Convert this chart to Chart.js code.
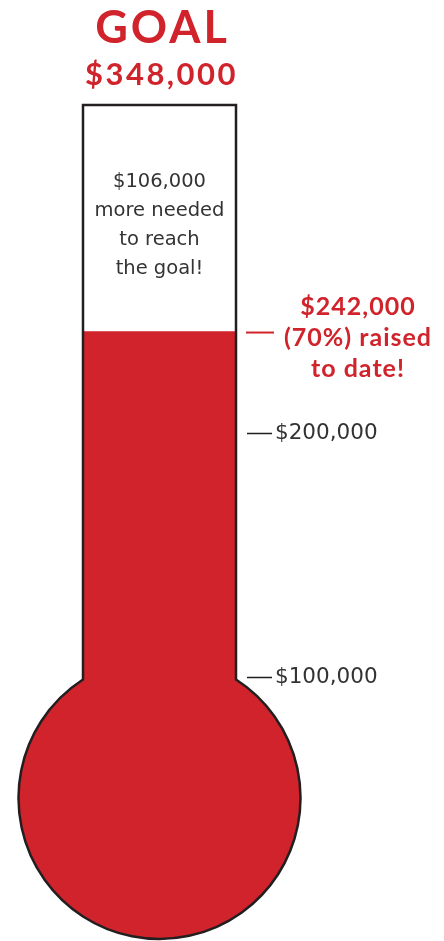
<!DOCTYPE html>
<html>
<head>
<meta charset="utf-8">
<script src="https://cdn.jsdelivr.net/npm/chart.js@4.4.1/dist/chart.umd.min.js"></script>
<style>
  html, body { margin: 0; padding: 0; background: #fff; }
  #wrap { width: 444px; height: 941px; position: relative; }
</style>
</head>
<body>
<div id="wrap"><canvas id="thermo"></canvas></div>
<script>
// data
const CATEGORIES = ['Raised'];
const GOAL = 348000;
const RAISED = [242000];
const TICK_VALUES = [100000, 200000];

const RED = '#d0232b';
const INK = '#231f20';
const TEXT = '#333333';
const BOLD_FONT = 'Lato, "Open Sans", sans-serif';
const BOOK_FONT = '"DejaVu Sans", sans-serif';

function money(v) {
  return '$' + v.toLocaleString('en-US');
}

function bulb(chart) {
  const a = chart.chartArea;
  const cx = (a.left + a.right) / 2;
  const r = 141;
  const cy = a.bottom - 123;
  const half = (a.right - a.left) / 2;
  const h = Math.sqrt(r * r - half * half);
  return { a, cx, cy, r, half, joinY: cy - h, t0: Math.atan2(h, half) };
}

// thermometer tube, bulb and labels
const thermoPlugin = {
  id: 'thermo',
  beforeDatasetsDraw(chart) {
    const b = bulb(chart);
    const ctx = chart.ctx;
    ctx.save();
    ctx.beginPath();
    ctx.rect(b.a.left, b.a.top, b.a.right - b.a.left, b.joinY - b.a.top + 4);
    ctx.arc(b.cx, b.cy, b.r, 0, Math.PI * 2);
    ctx.clip();
  },
  afterDatasetsDraw(chart) {
    const ctx = chart.ctx;
    ctx.restore();
    const b = bulb(chart);
    const a = b.a;
    const cx = b.cx;
    const y = chart.scales.y;

    ctx.save();
    // bulb
    ctx.fillStyle = RED;
    ctx.beginPath();
    ctx.arc(cx, b.cy, b.r, 0, Math.PI * 2);
    ctx.fill();

    // outline
    ctx.strokeStyle = INK;
    ctx.lineWidth = 2.5;
    ctx.beginPath();
    ctx.moveTo(a.left, b.joinY);
    ctx.lineTo(a.left, a.top);
    ctx.lineTo(a.right, a.top);
    ctx.lineTo(a.right, b.joinY);
    ctx.arc(cx, b.cy, b.r, -b.t0, Math.PI + b.t0, false);
    ctx.closePath();
    ctx.stroke();

    // header
    ctx.textAlign = 'center';
    ctx.textBaseline = 'alphabetic';
    ctx.fillStyle = RED;
    ctx.font = 'bold 45px ' + BOLD_FONT;
    ctx.letterSpacing = '3px';
    ctx.fillText('GOAL', cx + 3, a.top - 62);
    ctx.font = 'bold 31px ' + BOLD_FONT;
    ctx.letterSpacing = '2.5px';
    ctx.fillText(money(GOAL), cx + 2, a.top - 20);

    // still needed
    const raised = RAISED[0];
    ctx.fillStyle = TEXT;
    ctx.letterSpacing = '0px';
    ctx.font = '19.5px ' + BOOK_FONT;
    ctx.textBaseline = 'middle';
    const need = [money(GOAL - raised), 'more needed', 'to reach', 'the goal!'];
    need.forEach((s, i) => ctx.fillText(s, cx, a.top + 77 + i * 29));

    // raised marker
    const py = y.getPixelForValue(raised);
    ctx.strokeStyle = RED;
    ctx.lineWidth = 2;
    ctx.beginPath();
    ctx.moveTo(a.right + 10, py + 1);
    ctx.lineTo(a.right + 38, py + 1);
    ctx.stroke();

    ctx.fillStyle = RED;
    ctx.font = 'bold 25px ' + BOLD_FONT;
    ctx.letterSpacing = '1px';
    const pct = Math.round(raised / GOAL * 100);
    const lines = [money(raised), '(' + pct + '%) raised', 'to date!'];
    lines.forEach((s, i) => ctx.fillText(s, a.right + 122, py - 25 + i * 31));
    ctx.restore();
  }
};

const chart = new Chart(document.getElementById('thermo'), {
  type: 'bar',
  data: {
    labels: CATEGORIES,
    datasets: [{
      label: 'Raised',
      data: RAISED,
      backgroundColor: RED,
      borderWidth: 0,
      barPercentage: 1,
      categoryPercentage: 1
    }]
  },
  options: {
    responsive: true,
    maintainAspectRatio: false,
    animation: false,
    layout: { padding: { left: 83, top: 105, bottom: 20, right: 0 } },
    scales: {
      x: { display: false },
      y: {
        position: 'right',
        min: 0,
        max: 335000,
        afterBuildTicks(scale) {
          scale.ticks = TICK_VALUES.map(v => ({ value: v }));
        },
        afterFit(scale) {
          scale.width = 208;
        },
        border: { display: false },
        grid: {
          drawOnChartArea: false,
          drawTicks: true,
          tickLength: 36,
          tickColor: INK,
          tickWidth: 1.3,
          tickBorderDash: [0, 11, 25, 100]
        },
        ticks: {
          padding: 3,
          color: TEXT,
          font: { family: BOOK_FONT, size: 21.5 },
          callback: v => money(v)
        }
      }
    },
    plugins: {
      legend: { display: false },
      tooltip: { enabled: false }
    }
  },
  plugins: [thermoPlugin]
});
</script>
</body>
</html>
